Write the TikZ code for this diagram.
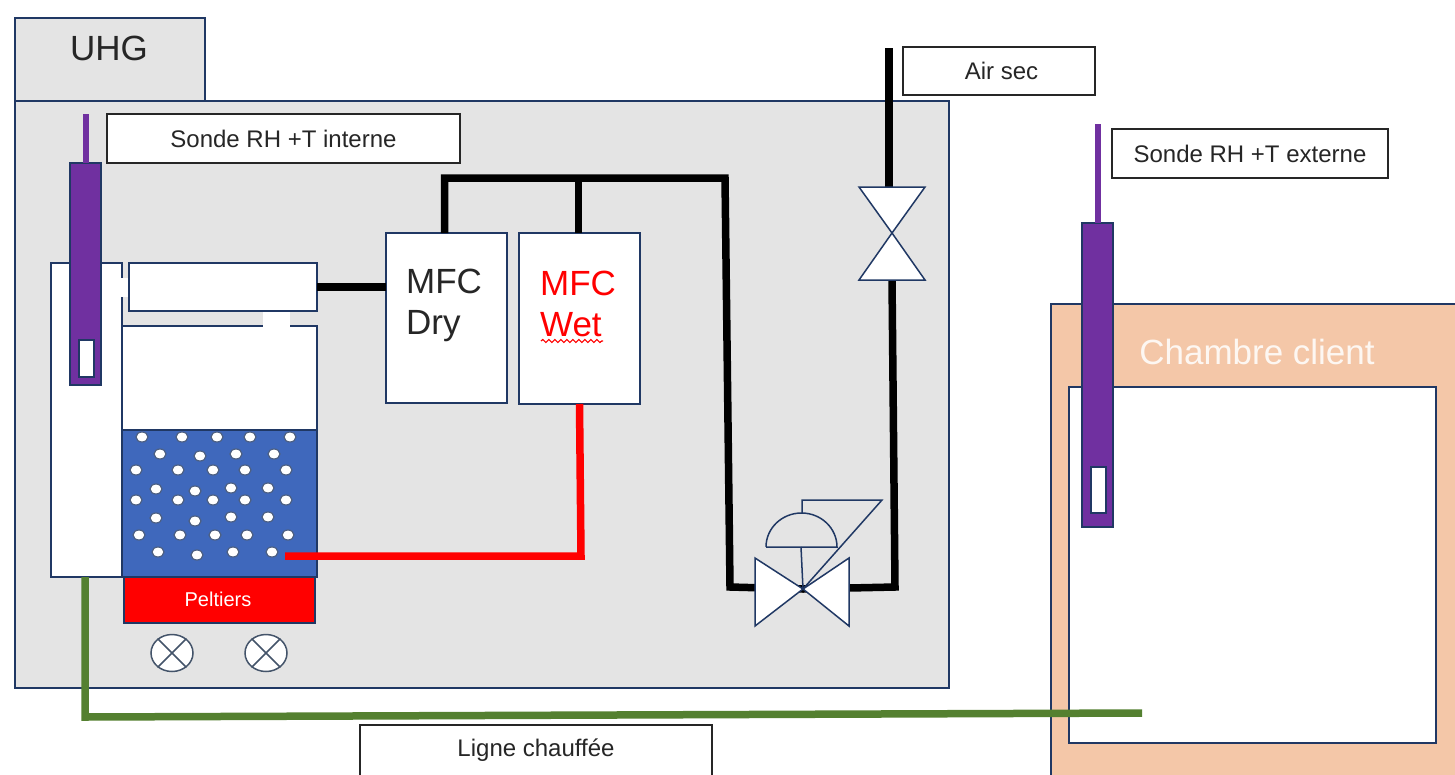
\documentclass[tikz,border=0pt]{standalone}
\usepackage{fontspec}
\setmainfont{Liberation Sans}
\usetikzlibrary{shapes.geometric,positioning,decorations.pathmorphing}
\definecolor{navy}{HTML}{203864}
\definecolor{cabinet}{HTML}{E4E4E4}
\definecolor{probe}{HTML}{7030A0}
\definecolor{water}{HTML}{3F68BC}
\definecolor{peach}{HTML}{F4C7A8}
\definecolor{heated}{HTML}{548030}
\definecolor{fanline}{HTML}{44546A}
\tikzset{
  part/.style={draw=navy,line width=1.2pt,fill=white,inner sep=0pt,outer sep=0pt,anchor=north west},
  caption/.style={draw=black!85,line width=1.2pt,fill=white,inner sep=0pt,outer sep=0pt,anchor=north west,font=\fontsize{24}{28}\selectfont,text=black!85},
  big/.style={inner sep=0pt,align=left,font=\fontsize{35}{41}\selectfont},
  pipe/.style={draw=black,line width=7.5pt,line join=miter},
  valve/.style={draw=navy,line width=1.5pt,fill=white,line join=miter},
  fan/.style={ellipse,draw=fanline,line width=1.5pt,fill=white,inner sep=0pt,minimum width=42pt,minimum height=37pt}
}
\begin{document}
\begin{tikzpicture}[x=1pt,y=-1pt]
   \useasboundingbox (0,0) rectangle (1455,774);
   \clip (0,0) rectangle (1455,774);
   % cabinet
   \node [part,fill=cabinet,minimum width=190pt,minimum height=83pt] (tab) at (15,18) {};
   \node [big,text=black!85] (uhg) at (109,48) {UHG};
   \node [part,fill=cabinet,minimum width=934pt,minimum height=587pt] (uhgbox) at (15,101) {};
   % client chamber
   \node [part,fill=peach,minimum width=420pt,minimum height=490pt] (chamber) at (1051,304) {};
   \node [part,minimum width=367pt,minimum height=356pt] (inner) at (1069,387) {};
   \node [big,text=white!85!peach] (chamberlabel) at (1257,352) {Chambre client};
   % captions
   \node [caption,minimum width=353pt,minimum height=49pt] (intcap) at (107,114) {Sonde RH +T interne};
   \node [caption,minimum width=192pt,minimum height=48pt] (aircap) at (903,47) {\hspace*{5pt}Air sec};
   \node [caption,minimum width=276pt,minimum height=49pt] (extcap) at (1112,129) {Sonde RH +T externe};
   \node [caption,minimum width=352pt,minimum height=51pt] (linecap) at (360,725) {Ligne chauffée};
   % humidifier
   \node [part,minimum width=71pt,minimum height=314pt] (column) at (51,263) {};
   \node [part,minimum width=188pt,minimum height=48pt] (tube) at (129,263) {};
   \node [part,minimum width=195pt,minimum height=104pt] (headspace) at (122,326) {};
   \node [part,fill=water,minimum width=195pt,minimum height=147pt] (tank) at (122,430) {};
   \fill [white] (118,278) rectangle (128,297);
   \fill [white] (263,312) rectangle (290,329);
   \foreach \x/\y in {142/437,182/437,217/437,250/437,290/437,
                      160/454,200/456,236/454,274/454,
                      136/470,178/470,213/470,245/470,286/470,
                      156/489,195/491,231/488,268/488,
                      136/500,178/500,213/500,245/500,286/500,
                      156/518,195/521,231/517,268/517,
                      139/535,180/535,215/535,247/535,288/535,
                      158/552,197/555,233/552,272/552}
      \filldraw [draw=navy!80!white,fill=white,line width=1.2pt] (\x,\y) ellipse (6pt and 5pt);
   \node [part,fill=red,minimum width=191pt,minimum height=46pt] (peltier) at (124,577) {};
   \node [text=white,inner sep=0pt,font=\fontsize{20}{24}\selectfont] (peltierlabel) at (218,599) {Peltiers};
   \node [fan] (fana) at (172,653) {};
   \node [fan] (fanb) at (266,653) {};
   \foreach \f in {fana,fanb} {
      \draw [fanline,line width=1.5pt] (\f.45) -- (\f.225) (\f.135) -- (\f.315);
   }
   % mass flow controllers
   \node [part,minimum width=121pt,minimum height=170pt] (dry) at (386,233) {};
   \node [part,minimum width=121pt,minimum height=171pt] (wet) [right =12pt of dry.north east,anchor=north west] {};
   \node [big,text=black!85] (drylabel) at (444,305) {MFC\\Dry};
   \node [big,text=red] (wetlabel) at (578,304) {MFC\\Wet};
   \draw [red,line width=1.2pt,decorate,decoration={snake,amplitude=1.5pt,segment length=6pt}] (541,341) -- (603,341);
   % named points of the lines
   \coordinate (airin) at (889,48);
   \coordinate (vtop) at (889,187);
   \coordinate (vbot) at (892,280);
   \coordinate (rcorner) at (895,587);
   \coordinate (vc) at (803,589);
   \coordinate (topcorner) at (725,178);
   \coordinate (lcorner) at (730,587);
   \coordinate (redstart) at (285,556);
   \coordinate (redcorner) at (581,556);
   \coordinate (greencorner) at (85,717);
   \coordinate (greenend) at (1142,713);
   % lines
   \draw [pipe] (airin) -- (vtop);
   \draw [pipe] (vbot) -- (rcorner) -- (vc);
   \draw [pipe] ([xshift=-2pt]dry.north) |- (topcorner) -- (lcorner) -- (vc);
   \draw [pipe] ([xshift=-1pt]wet.north) -- ([xshift=-1pt]wet.north |- topcorner);
   \draw [pipe] (tube.east) -- (tube.east -| dry.west);
   \draw [draw=red,line width=7.5pt] (redstart) -- (redcorner) -- (wet.south);
   \draw [draw=heated,line width=7.5pt] (column.south -| 85,577) -- (greencorner) -- (greenend);
   % hand valve
   \draw [valve] (859,187) -- (925,187) -- (892,233) -- cycle;
   \draw [valve] (859,280) -- (925,280) -- (892,233) -- cycle;
   % actuated valve
   \draw [valve] (755,558) -- (755,626) -- (vc) -- cycle;
   \draw [valve] (849,558) -- (849,626) -- (vc) -- cycle;
   \draw [navy,line width=1.5pt] (801,547) -- (vc);
   \draw [navy,line width=1.5pt] (766,547) -- (837,547) arc (0:180:35.5pt and 34pt);
   \draw [navy,line width=1.5pt,line join=miter] (802,513) -- (802,500) -- (882,500) -- (vc);
   % probes
   \node [part,fill=probe,minimum width=31pt,minimum height=222pt] (probeint) at (70,163) {};
   \node [part,minimum width=15pt,minimum height=37pt] (sensorint) at (79,340) {};
   \node [inner sep=0pt,fill=probe,minimum width=6pt,minimum height=49pt,anchor=south] (stemint) at (probeint.north) {};
   \node [part,fill=probe,minimum width=31pt,minimum height=304pt] (probeext) at (1082,223) {};
   \node [part,minimum width=15pt,minimum height=46pt] (sensorext) at (1091,467) {};
   \node [inner sep=0pt,fill=probe,minimum width=6pt,minimum height=99pt,anchor=south] (stemext) at (probeext.north) {};
\end{tikzpicture}
\end{document}
